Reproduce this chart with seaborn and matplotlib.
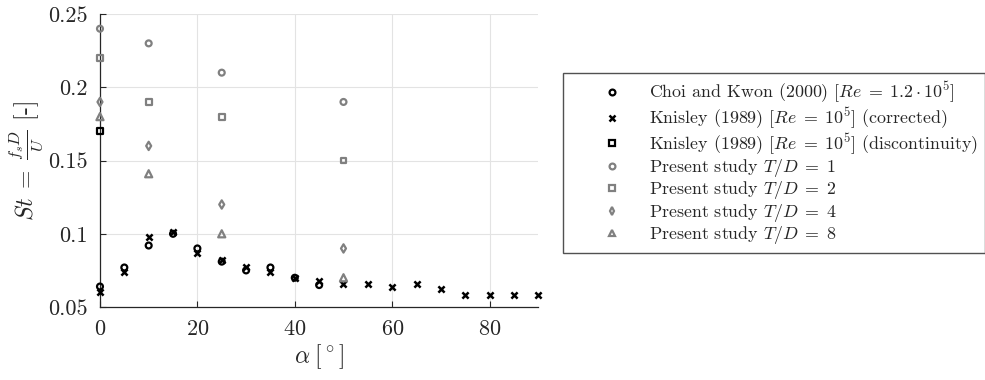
import numpy as np
import pandas as pd
import matplotlib
matplotlib.use("Agg")
import matplotlib.pyplot as plt
from matplotlib.lines import Line2D
import seaborn as sns

# Strouhal number versus inclination angle
choi_alpha = [0, 5, 10, 15, 20, 25, 30, 35, 40, 45]
choi_st = [0.064, 0.077, 0.092, 0.100, 0.090, 0.081, 0.075, 0.077, 0.070, 0.065]

knis_alpha = [0, 5, 10, 15, 20, 25, 30, 35, 40, 45, 50, 55, 60, 65, 70, 75, 80, 85, 90]
knis_st = [0.060, 0.074, 0.098, 0.101, 0.087, 0.082, 0.077, 0.074, 0.070, 0.068,
           0.066, 0.066, 0.064, 0.066, 0.062, 0.058, 0.058, 0.058, 0.058]

knis_disc_alpha = [0]
knis_disc_st = [0.170]

present_alpha = [0, 10, 25, 50]
present_td1 = [0.240, 0.230, 0.210, 0.190]
present_td2 = [0.220, 0.190, 0.180, 0.150]
present_td4 = [0.190, 0.160, 0.120, 0.090]
present_td8 = [0.180, 0.141, 0.100, 0.070]

labels = [
    r"Choi and Kwon (2000) [$Re\;=\;1.2 \cdot 10^5$]",
    r"Knisley (1989) [$Re\;=\;10^5$] (corrected)",
    r"Knisley (1989) [$Re\;=\;10^5$] (discontinuity)",
    r"Present study $T/D\;=\;1$",
    r"Present study $T/D\;=\;2$",
    r"Present study $T/D\;=\;4$",
    r"Present study $T/D\;=\;8$",
]

sns.set_theme(style="whitegrid")
plt.rcParams.update({
    "font.family": ["cmr10", "DejaVu Serif"],
    "mathtext.fontset": "cm",
    "axes.formatter.use_mathtext": True,
    "axes.unicode_minus": False,
    "axes.edgecolor": "#262626",
    "axes.linewidth": 0.9,
    "grid.color": "#e3e3e3",
    "grid.linewidth": 0.8,
    "xtick.direction": "in",
    "ytick.direction": "in",
    "xtick.major.size": 4,
    "ytick.major.size": 4,
    "xtick.major.width": 0.8,
    "ytick.major.width": 0.8,
    "xtick.bottom": True,
    "ytick.left": True,
    "xtick.color": "#262626",
    "ytick.color": "#262626",
})

fig = plt.figure(figsize=(9.85, 3.8), dpi=100)
ax = fig.add_axes([0.1015, 0.192, 0.445, 0.771])

black = "#000000"
grey = "#808080"

series = [
    (choi_alpha, choi_st, "o", black),
    (knis_alpha, knis_st, "x", black),
    (knis_disc_alpha, knis_disc_st, "s", black),
    (present_alpha, present_td1, "o", grey),
    (present_alpha, present_td2, "s", grey),
    (present_alpha, present_td4, "d", grey),
    (present_alpha, present_td8, "^", grey),
]

handles = []
for (xs, ys, mk, col), lab in zip(series, labels):
    df = pd.DataFrame({"alpha": xs, "St": ys})
    if mk == "x":
        sns.scatterplot(data=df, x="alpha", y="St", marker=mk, color=col,
                        s=20, linewidth=1.8, ax=ax, clip_on=False, zorder=3)
    else:
        sns.scatterplot(data=df, x="alpha", y="St", marker=mk,
                        facecolors="none", edgecolor=col,
                        s=18 if mk != "^" else 26,
                        linewidth=1.6, ax=ax, clip_on=False, zorder=3)
    handles.append(Line2D([], [], linestyle="none", marker=mk,
                          markersize=4.2 if mk != "^" else 5.0,
                          markerfacecolor="none" if mk != "x" else col,
                          markeredgecolor=col,
                          markeredgewidth=1.6 if mk != "x" else 1.8,
                          label=lab))

ax.set_xlim(0, 90)
ax.set_ylim(0.05, 0.25)
ax.set_xticks([0, 20, 40, 60, 80])
ax.set_yticks([0.05, 0.1, 0.15, 0.2, 0.25])
ax.set_yticklabels(["0.05", "0.1", "0.15", "0.2", "0.25"])
ax.tick_params(labelsize=16, pad=9)
for side in ("top", "right"):
    ax.spines[side].set_visible(False)
ax.set_xlabel(r"$\alpha\;[^\circ]$", fontsize=17, labelpad=2)
ax.set_ylabel(r"$St\;=\;\frac{f_s D}{U}$ [-]", fontsize=17, labelpad=2)

leg = ax.legend(handles=handles, loc="upper left",
                bbox_to_anchor=(0.5716, 0.808), bbox_transform=fig.transFigure,
                borderaxespad=0, fontsize=12.9, frameon=True, fancybox=False,
                handlelength=4.7, handletextpad=-0.3, labelspacing=0.02,
                borderpad=0.4, numpoints=1)
leg.get_frame().set_edgecolor("#262626")
leg.get_frame().set_linewidth(1.0)

fig.savefig("out.png", dpi=100)
